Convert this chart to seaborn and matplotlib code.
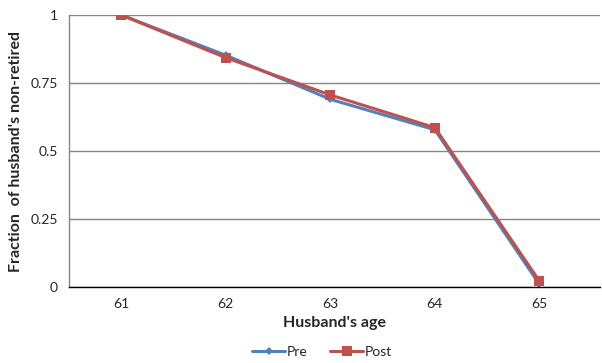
import matplotlib
matplotlib.use("Agg")
import matplotlib.pyplot as plt
import seaborn as sns
import pandas as pd
from matplotlib.ticker import FixedLocator, NullFormatter

ages = [61, 62, 63, 64, 65]
pre = [1.0, 0.852, 0.690, 0.578, 0.010]
post = [1.0, 0.843, 0.706, 0.586, 0.022]
y_ticks = [0, 0.25, 0.5, 0.75, 1]
y_tick_labels = ["0", "0.25", "0.5", "0.75", "1"]

df = pd.DataFrame({
    "age": ages * 2,
    "frac": pre + post,
    "series": ["Pre"] * len(ages) + ["Post"] * len(ages),
})

sns.set_theme(style="white")
plt.rcParams["font.family"] = ["Lato", "DejaVu Sans"]

fig = plt.figure(figsize=(6.02, 3.63), dpi=100)
ax = fig.add_axes([69 / 602, 76 / 363, 531 / 602, 272 / 363])

palette = {"Pre": "#4F81BD", "Post": "#C0504D"}
sns.lineplot(data=df, x="age", y="frac", hue="series", style="series",
             markers={"Pre": "D", "Post": "s"}, dashes=False,
             palette=palette, linewidth=2.2, ax=ax, legend=False,
             markeredgewidth=0)
for line in ax.lines:
    if line.get_marker() == "D":
        line.set_markersize(4.5)
    else:
        line.set_markersize(7.5)

ax.set_xlim(60.5, 65.58)
ax.set_ylim(0, 1)
ax.set_yticks(y_ticks)
ax.set_yticklabels(y_tick_labels, fontsize=10)
ax.yaxis.grid(True, color="#868686", linewidth=1)
ax.set_axisbelow(True)

# category labels centred, tick marks on the boundaries
ax.xaxis.set_major_locator(FixedLocator(ages))
ax.set_xticklabels([str(a) for a in ages], fontsize=10)
ax.xaxis.set_minor_locator(FixedLocator([a + 0.5 for a in [60] + ages[:-1]]))
ax.xaxis.set_minor_formatter(NullFormatter())
ax.tick_params(axis="x", which="major", length=0, pad=8)
ax.tick_params(axis="x", which="minor", length=5, width=1, color="#868686", direction="out")
ax.tick_params(axis="y", length=5, width=1, color="#868686", direction="out", pad=3)

for side in ["top", "right"]:
    ax.spines[side].set_visible(False)
ax.spines["left"].set_color("#868686")
ax.spines["bottom"].set_color("#000000")
ax.spines["left"].set_linewidth(1)
ax.spines["bottom"].set_linewidth(1)

ax.set_xlabel("Husband's age", fontsize=11.5, fontweight="bold", labelpad=4)
ax.set_ylabel("Fraction  of husband's non-retired", fontsize=11.5, fontweight="bold", labelpad=5)

handles = [
    plt.Line2D([], [], color=palette["Pre"], marker="D", markersize=4.5, linewidth=2.2, markeredgewidth=0),
    plt.Line2D([], [], color=palette["Post"], marker="s", markersize=7.5, linewidth=2.2, markeredgewidth=0),
]
fig.legend(handles, ["Pre", "Post"], loc="center", bbox_to_anchor=(322 / 602, 1 - 352 / 363),
           ncol=2, frameon=False, fontsize=10, handlelength=2.4, handletextpad=0.1,
           columnspacing=1.6)

fig.savefig("out.png", dpi=100)
